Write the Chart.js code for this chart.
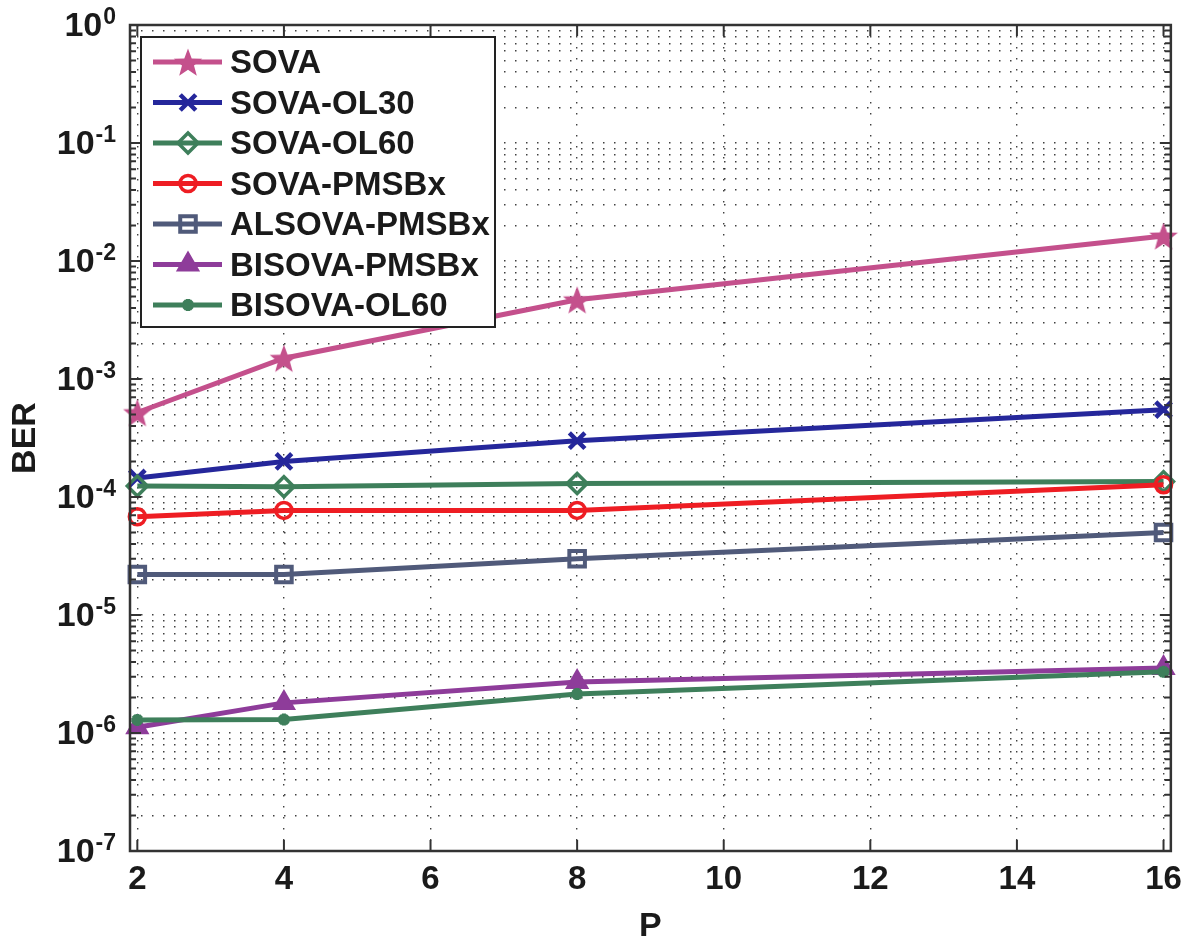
<!DOCTYPE html>
<html>
<head>
<meta charset="utf-8">
<script src="https://cdn.jsdelivr.net/npm/chart.js@4"></script>
<style>
  html, body { margin: 0; padding: 0; background: #fff; }
  canvas { display: block; }
</style>
</head>
<body>
<canvas id="ber" width="1191" height="947"></canvas>
<script>
// BER vs P (log scale).
const pValues = [2, 4, 8, 16];
const sova = [5.2e-4, 1.5e-3, 4.7e-3, 1.63e-2];
const sovaOl30 = [1.45e-4, 2.0e-4, 3.0e-4, 5.5e-4];
const sovaOl60 = [1.24e-4, 1.22e-4, 1.3e-4, 1.35e-4];
const sovaPmsbx = [6.8e-5, 7.7e-5, 7.7e-5, 1.27e-4];
const alsovaPmsbx = [2.2e-5, 2.2e-5, 3.0e-5, 5.0e-5];
const bisovaPmsbx = [1.12e-6, 1.8e-6, 2.7e-6, 3.55e-6];
const bisovaOl60 = [1.29e-6, 1.3e-6, 2.14e-6, 3.3e-6];

const xTicks = [2, 4, 6, 8, 10, 12, 14, 16];
const yDecades = [-7, -6, -5, -4, -3, -2, -1, 0];

const FONT = '"Liberation Sans", Arial, Helvetica, sans-serif';
const INK = '#1a1a1a';

const pts = (ys) => ys.map((y, i) => ({ x: pValues[i], y }));

// filled five-point star, Chart.js has no such pointStyle
function starImage(size, color) {
  const c = document.createElement('canvas');
  c.width = c.height = size;
  const g = c.getContext('2d');
  const R = size / 2, r = R * 0.42, cx = size / 2, cy = size / 2 + size * 0.05;
  g.fillStyle = color;
  g.beginPath();
  for (let k = 0; k < 10; k++) {
    const rad = k % 2 ? r : R;
    const a = -Math.PI / 2 + k * Math.PI / 5;
    g.lineTo(cx + rad * Math.cos(a), cy + rad * Math.sin(a));
  }
  g.closePath();
  g.fill();
  return c;
}

function series(label, data, color, style, radius, borderW, fill) {
  return {
    label,
    data: pts(data),
    borderColor: color,
    backgroundColor: color,
    borderWidth: 5,
    pointStyle: style,
    pointRadius: radius,
    pointBorderWidth: borderW,
    pointBorderColor: color,
    pointBackgroundColor: fill,
    tension: 0,
    clip: false,
  };
}

const datasets = [
  series('SOVA', sova, '#c4508c', starImage(30, '#c4508c'), 15, 0, '#c4508c'),
  series('SOVA-OL30', sovaOl30, '#25279b', 'crossRot', 11, 4.5, '#25279b'),
  series('SOVA-OL60', sovaOl60, '#3e7f5b', 'rectRot', 10, 3.5, 'rgba(255,255,255,0)'),
  series('SOVA-PMSBx', sovaPmsbx, '#ee1d23', 'circle', 8, 3.5, 'rgba(255,255,255,0)'),
  series('ALSOVA-PMSBx', alsovaPmsbx, '#505a7a', 'rect', 11, 4, 'rgba(255,255,255,0)'),
  series('BISOVA-PMSBx', bisovaPmsbx, '#8e3c9a', 'triangle', 12, 2, '#8e3c9a'),
  series('BISOVA-OL60', bisovaOl60, '#3e7f5b', 'star', 6, 4, '#3e7f5b'),
];
// later series on top, like the original plot
datasets.forEach((d, i) => { d.order = -i; });

const whiteBg = {
  id: 'whiteBg',
  beforeDraw(chart) {
    const { ctx, width, height } = chart;
    ctx.save();
    ctx.fillStyle = '#fff';
    ctx.fillRect(0, 0, width, height);
    ctx.restore();
  },
};

// box, inward ticks on all four sides, and 10^n labels with real superscripts
const axesBox = {
  id: 'axesBox',
  afterDraw(chart) {
    const { ctx, chartArea: a, scales: { x, y } } = chart;
    ctx.save();
    ctx.strokeStyle = '#333';
    ctx.lineWidth = 2;
    ctx.setLineDash([]);
    ctx.beginPath();
    x.ticks.forEach((t) => {
      const px = x.getPixelForValue(t.value);
      ctx.moveTo(px, a.bottom); ctx.lineTo(px, a.bottom - 11);
      ctx.moveTo(px, a.top); ctx.lineTo(px, a.top + 11);
    });
    y.ticks.forEach((t) => {
      const py = y.getPixelForValue(t.value);
      const len = t.major ? 11 : 6;
      ctx.moveTo(a.left, py); ctx.lineTo(a.left + len, py);
      ctx.moveTo(a.right, py); ctx.lineTo(a.right - len, py);
    });
    ctx.stroke();
    ctx.lineWidth = 2.5;
    ctx.strokeRect(a.left, a.top, a.right - a.left, a.bottom - a.top);

    ctx.fillStyle = INK;
    ctx.textBaseline = 'alphabetic';
    ctx.textAlign = 'left';
    yDecades.forEach((e) => {
      const py = y.getPixelForValue(Math.pow(10, e));
      const exp = String(e);
      ctx.font = 'bold 23px ' + FONT;
      const ew = ctx.measureText(exp).width;
      ctx.font = 'bold 34px ' + FONT;
      const bw = ctx.measureText('10').width;
      const right = 116;
      ctx.fillText('10', right - ew - bw - 1, py + 11);
      ctx.font = 'bold 23px ' + FONT;
      ctx.fillText(exp, right - ew, py - 1);
    });
    ctx.restore();
  },
};

// legend sits inside the plot, upper left
const innerLegend = {
  id: 'innerLegend',
  afterDraw(chart) {
    const ctx = chart.ctx;
    const left = 141, top = 37, w = 354, h = 290;
    ctx.save();
    ctx.fillStyle = '#fff';
    ctx.fillRect(left, top, w, h);
    ctx.strokeStyle = '#222';
    ctx.lineWidth = 2;
    ctx.strokeRect(left, top, w, h);
    ctx.textBaseline = 'middle';
    ctx.textAlign = 'left';
    chart.data.datasets.forEach((ds, i) => {
      const cy = top + 25 + i * 40.5;
      ctx.strokeStyle = ds.borderColor;
      ctx.lineWidth = ds.borderWidth;
      ctx.beginPath();
      ctx.moveTo(left + 12, cy);
      ctx.lineTo(left + 81, cy);
      ctx.stroke();
      ctx.fillStyle = ds.pointBackgroundColor;
      ctx.strokeStyle = ds.pointBorderColor;
      ctx.lineWidth = ds.pointBorderWidth;
      Chart.helpers.drawPoint(ctx, {
        pointStyle: ds.pointStyle,
        radius: ds.pointRadius,
        rotation: 0,
        borderWidth: ds.pointBorderWidth,
      }, left + 47, cy);
      ctx.fillStyle = INK;
      ctx.font = 'bold 33px ' + FONT;
      ctx.fillText(ds.label, left + 89, cy + 2);
    });
    ctx.restore();
  },
};

const gridStyle = { color: 'rgba(0,0,0,0.75)', lineWidth: 1.4, drawTicks: false };
const gridDash = { display: false, dash: [1.5, 9.5] };

new Chart(document.getElementById('ber'), {
  type: 'line',
  data: { datasets },
  options: {
    responsive: false,
    animation: false,
    devicePixelRatio: 1,
    events: [],
    layout: { padding: { left: 0, top: 25, right: 18, bottom: 0 } },
    plugins: { legend: { display: false }, tooltip: { enabled: false } },
    scales: {
      x: {
        type: 'linear',
        min: 1.9,
        max: 16.1,
        afterBuildTicks: (s) => { s.ticks = xTicks.map((v) => ({ value: v })); },
        afterFit: (s) => { s.height = 96; },
        grid: gridStyle,
        border: gridDash,
        ticks: {
          color: INK,
          padding: 9,
          maxRotation: 0,
          font: { family: FONT, size: 33, weight: 'bold' },
        },
        title: {
          display: true,
          text: 'P',
          color: INK,
          padding: { top: 0, bottom: 0 },
          font: { family: FONT, size: 34, weight: 'bold' },
        },
      },
      y: {
        type: 'logarithmic',
        min: 1e-7,
        max: 1,
        afterBuildTicks: (s) => {
          const t = [];
          yDecades.forEach((e) => {
            for (let m = 1; m <= 9; m++) {
              if (e === 0 && m > 1) break;
              t.push({ value: m * Math.pow(10, e), major: m === 1 });
            }
          });
          s.ticks = t;
        },
        afterFit: (s) => { s.width = 130; },
        grid: gridStyle,
        border: gridDash,
        ticks: { display: false },
        title: {
          display: true,
          text: 'BER',
          color: INK,
          padding: { top: 5, bottom: 0 },
          font: { family: FONT, size: 34, weight: 'bold' },
        },
      },
    },
  },
  plugins: [whiteBg, axesBox, innerLegend],
});
</script>
</body>
</html>
